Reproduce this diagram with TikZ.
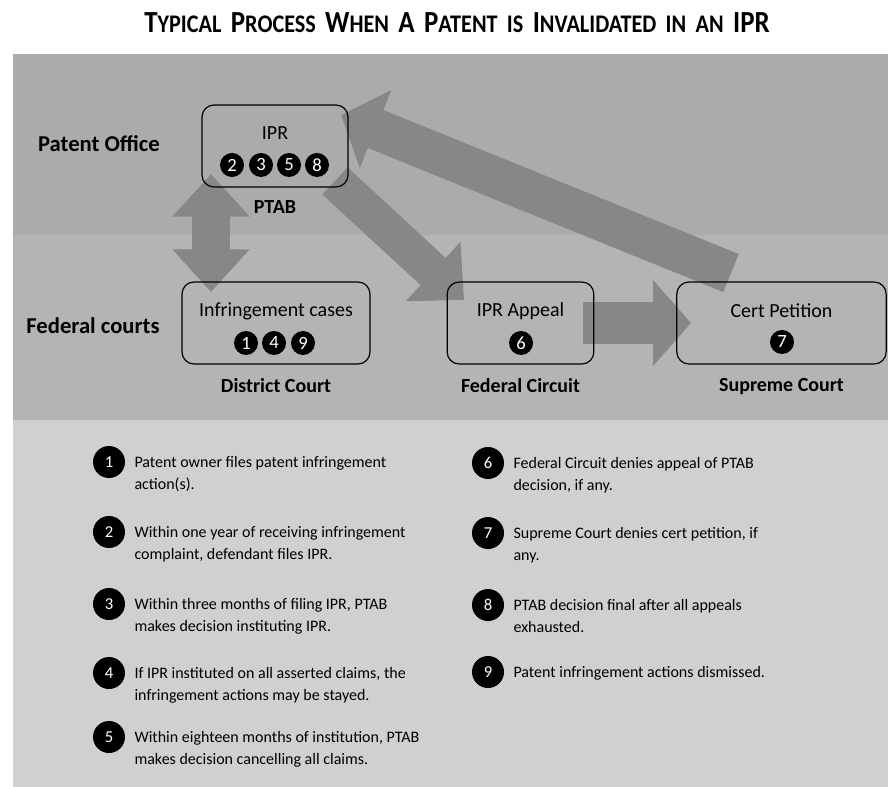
\documentclass[tikz,border=0pt]{standalone}
\usepackage{fontspec}
\setmainfont{Carlito}
\usetikzlibrary{positioning,arrows.meta}
\definecolor{bandtop}{HTML}{ABABAB}
\definecolor{bandlow}{HTML}{B4B4B4}
\definecolor{notes}{HTML}{D0D0D0}
\definecolor{flowgray}{HTML}{878787}
\newcommand\bigsc[1]{{\fontsize{23}{23}\selectfont #1}}
\newcommand\smsc[1]{{\fontsize{19}{19}\selectfont #1}}
\newcommand\wsp{\hspace{8pt}}

\begin{document}
\begin{tikzpicture}[x=0.75pt,y=-0.75pt,node distance=6.5pt,
  court box/.style={draw, line width=0.9pt, rounded corners=9pt, minimum height=61.5pt},
  box text/.style={font=\fontsize{15}{15}\selectfont},
  num/.style={circle, fill=black, text=white, inner sep=0pt, minimum size=18pt, font=\fontsize{14}{14}\selectfont},
  list num/.style={num, minimum size=24pt, font=\fontsize{12.5}{12.5}\selectfont},
  court/.style={font=\bfseries\fontsize{15}{15}\selectfont},
  office/.style={font=\bfseries\fontsize{17}{17}\selectfont},
  note/.style={anchor=base west, inner sep=0pt, font=\fontsize{12}{16.5}\selectfont},
  flow/.style={flowgray, line width=#1}]
  \useasboundingbox[fill=white] (0,0) rectangle (888,787);

  \fill[bandtop] (13,54) rectangle (888,235);
  \fill[bandlow] (13,235) rectangle (888,420);
  \fill[notes] (13,420) rectangle (888,787);

  \node (title) at (457,23) {\bfseries\scalebox{0.877}[1]{\bigsc{T}\smsc{YPICAL}\wsp\bigsc{P}\smsc{ROCESS}\wsp\bigsc{W}\smsc{HEN}\wsp\bigsc{A}\wsp\bigsc{P}\smsc{ATENT}\wsp\smsc{IS}\wsp\bigsc{I}\smsc{NVALIDATED}\wsp\smsc{IN}\wsp\smsc{AN}\wsp\bigsc{IPR}}};

  \node[office] (po) at (99,144) {Patent Office};
  \node[office] (fc) at (93,326) {Federal courts};

  % flow arrows, under the boxes
  \coordinate (dtop) at (211,174);
  \coordinate (dbot) at (211,292);
  \coordinate (ptabout) at (335,181);
  \coordinate (appealin) at (464,300);
  \coordinate (appealout) at (583,323);
  \coordinate (certin) at (691,323);
  \coordinate (certout) at (731,273);
  \coordinate (ptabin) at (341,115);
  \draw[flow=28.5pt, {Triangle[width=56pt,length=32pt]}-{Triangle[width=56pt,length=32pt]}] (dtop) -- (dbot);
  \draw[flow=27.75pt, -{Triangle[width=58.5pt,length=31.5pt]}] (ptabout) -- (appealin);
  \draw[flow=31.5pt, -{Triangle[width=63pt,length=28.5pt]}] (appealout) -- (certin);
  \draw[flow=30.75pt, -{Triangle[width=61.5pt,length=28pt]}] (certout) -- (ptabin);

  \node[court box, minimum width=109.5pt] (ipr) at (275,146) {};
  \node[court box, minimum width=141pt] (infr) at (276,323) {};
  \node[court box, minimum width=110pt] (appeal) at (520.5,323) {};
  \node[court box, minimum width=157pt] (cert) at (781.5,323) {};

  \node[box text] (iprt) at (275,133) {IPR};
  \node[box text] (infrt) at (276,311) {Infringement cases};
  \node[box text] (appealt) at (520.5,311) {IPR Appeal};
  \node[box text] (certt) at (781.5,311) {Cert Petition};

  \foreach \n/\x in {2/232,3/261,5/289,8/317}
    \node[num] (b\n) at (\x,165) {\n};
  \foreach \n/\x in {1/246,4/274,9/303}
    \node[num] (b\n) at (\x,343) {\n};
  \node[num] (b6) at (521,343) {6};
  \node[num] (b7) at (782,342) {7};

  \node[court, below=of ipr] (ptab) {PTAB};
  \node[court, below=of infr] (dc) {District Court};
  \node[court, below=of appeal] (fcirc) {Federal Circuit};
  \node[court, below=of cert] (sc) {Supreme Court};

  \foreach \n/\x/\y/\txt in {
      1/109/462/{Patent owner files patent infringement\\action(s).},
      2/109/532/{Within one year of receiving infringement\\complaint, defendant files IPR.},
      3/109/604/{Within three months of filing IPR, PTAB\\makes decision instituting IPR.},
      4/109/673/{If IPR instituted on all asserted claims, the\\infringement actions may be stayed.},
      5/109/737/{Within eighteen months of institution, PTAB\\makes decision cancelling all claims.},
      6/488/463/{Federal Circuit denies appeal of PTAB\\decision, if any.},
      7/488/533/{Supreme Court denies cert petition, if\\any.},
      8/488/605/{PTAB decision final after all appeals\\exhausted.},
      9/488/672/{Patent infringement actions dismissed.}}
    {
    \node[list num] (n\n) at (\x,\y) {\n};
    \node[note] (t\n) at ([xshift=6.75pt]n\n.base east) {\parbox[t]{240pt}{\raggedright\txt}};
    }
\end{tikzpicture}
\end{document}
